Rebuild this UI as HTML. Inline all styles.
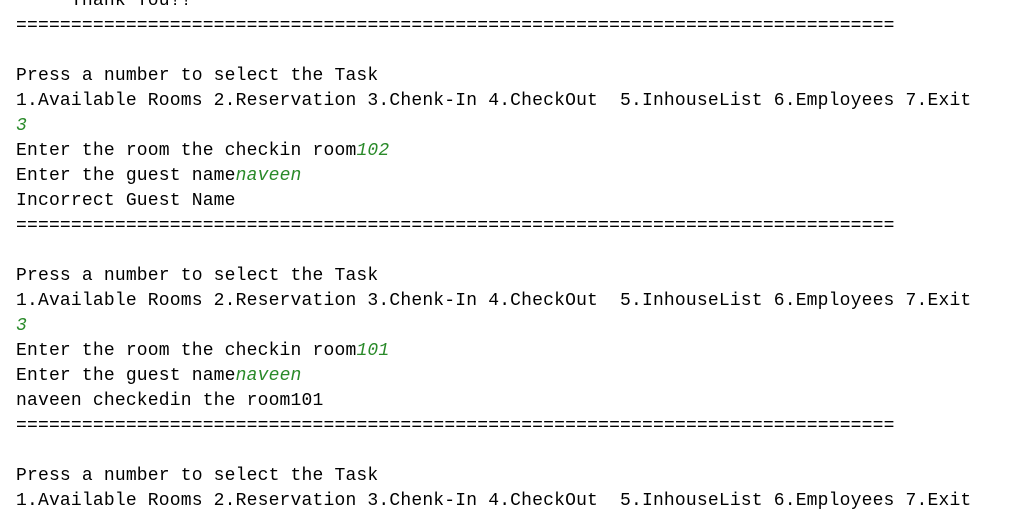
<!DOCTYPE html>
<html><head><style>
html,body{margin:0;padding:0;background:#fff;width:1017px;height:516px;overflow:hidden}
pre{position:absolute;left:16px;top:-11px;margin:0;font-family:"Liberation Mono","Courier New",monospace;font-size:18px;line-height:25px;letter-spacing:0.18px;color:#000}
i{color:#2a8a2a;font-style:italic}
</style></head><body>
<pre>     Thank You!!
<span>==========</span><span>==========</span><span>==========</span><span>==========</span><span>==========</span><span>==========</span><span>==========</span><span>==========</span>

Press a number to select the Task
1.Available Rooms 2.Reservation 3.Chenk-In 4.CheckOut  5.InhouseList 6.Employees 7.Exit
<i>3</i>
Enter the room the checkin room<i>102</i>
Enter the guest name<i>naveen</i>
Incorrect Guest Name
<span>==========</span><span>==========</span><span>==========</span><span>==========</span><span>==========</span><span>==========</span><span>==========</span><span>==========</span>

Press a number to select the Task
1.Available Rooms 2.Reservation 3.Chenk-In 4.CheckOut  5.InhouseList 6.Employees 7.Exit
<i>3</i>
Enter the room the checkin room<i>101</i>
Enter the guest name<i>naveen</i>
naveen checkedin the room101
<span>==========</span><span>==========</span><span>==========</span><span>==========</span><span>==========</span><span>==========</span><span>==========</span><span>==========</span>

Press a number to select the Task
1.Available Rooms 2.Reservation 3.Chenk-In 4.CheckOut  5.InhouseList 6.Employees 7.Exit
</pre>
</body></html>
